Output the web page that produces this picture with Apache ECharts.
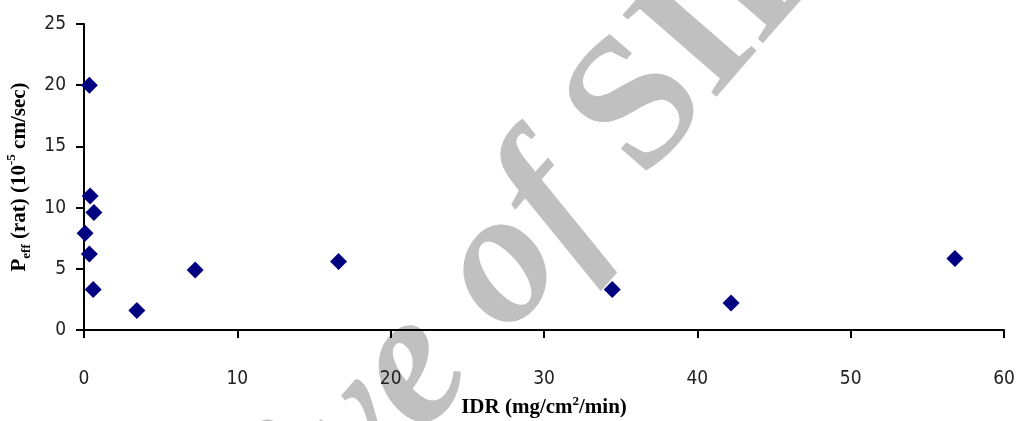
<!DOCTYPE html>
<html>
<head>
<meta charset="utf-8">
<script src="https://cdn.jsdelivr.net/npm/echarts@6/dist/echarts.min.js"></script>
<style>
  html, body { margin: 0; padding: 0; background: #fff; }
  #main { width: 1019px; height: 421px; }
</style>
</head>
<body>
<div id="main"></div>
<script>
// IDR (mg/cm2/min) vs Peff (rat) (10^-5 cm/sec)
var idrValues = [0.35, 0.4, 0.65, 0.07, 0.35, 0.6, 3.45, 7.25, 16.6, 34.45, 42.2, 56.8];
var peffValues = [20.0, 10.95, 9.6, 7.9, 6.2, 3.3, 1.6, 4.9, 5.6, 3.3, 2.2, 5.85];
var xTicks = [0, 10, 20, 30, 40, 50, 60];
var yTicks = [0, 5, 10, 15, 20, 25];

var points = idrValues.map(function (x, i) { return [x, peffValues[i]]; });

var chart = echarts.init(document.getElementById('main'));
var tickFont = '"DejaVu Sans Condensed", "Liberation Sans Narrow", sans-serif';
var titleFont = '"Liberation Serif", "Times New Roman", serif';

// watermark, two pieces sharing one anchor (just before the "S")
var wmAngle = 49 * Math.PI / 180;
var wmX = 606, wmY = 149;

var option = {
    animation: false,
    backgroundColor: '#fff',
    grid: { left: 84, right: 15, top: 24, bottom: 91, containLabel: false, outerBoundsMode: 'none' },
    graphic: {
        elements: [{
            type: 'text',
            z: -10,
            x: wmX,
            y: wmY,
            rotation: wmAngle,
            style: {
                text: 'Archive of ',
                fill: '#c0c0c0',
                font: 'italic bold 190px "Liberation Serif", serif',
                textAlign: 'right',
                textVerticalAlign: 'middle'
            }
        }, {
            type: 'text',
            z: -10,
            x: wmX,
            y: wmY,
            rotation: wmAngle,
            style: {
                text: 'SID',
                fill: '#c0c0c0',
                font: 'bold 190px "Liberation Serif", serif',
                textAlign: 'left',
                textVerticalAlign: 'middle'
            }
        }]
    },
    xAxis: {
        type: 'value',
        min: 0,
        max: 60,
        interval: 10,
        splitLine: { show: false },
        axisLine: { onZero: false, lineStyle: { color: '#000', width: 2 } },
        axisTick: { show: true, length: 8, lineStyle: { color: '#000', width: 2 } },
        axisLabel: {
            margin: 40,
            fontSize: 19,
            color: '#222',
            fontFamily: tickFont,
            formatter: function (v) { return xTicks.indexOf(v) >= 0 ? String(v) : ''; }
        },
        name: 'IDR (mg/cm{sup|2}/min)',
        nameLocation: 'middle',
        nameGap: 65,
        nameTextStyle: {
            fontFamily: titleFont,
            fontWeight: 'bold',
            fontSize: 21,
            color: '#000',
            lineHeight: 26,
            rich: {
                sup: { fontFamily: titleFont, fontWeight: 'bold', fontSize: 13, verticalAlign: 'top', color: '#000' }
            }
        }
    },
    yAxis: {
        type: 'value',
        min: 0,
        max: 25,
        interval: 5,
        splitLine: { show: false },
        axisLine: { onZero: false, lineStyle: { color: '#000', width: 2 } },
        axisTick: { show: true, length: 8, lineStyle: { color: '#000', width: 2 } },
        axisLabel: {
            margin: 18,
            fontSize: 19,
            color: '#222',
            fontFamily: tickFont,
            formatter: function (v) { return yTicks.indexOf(v) >= 0 ? String(v) : ''; }
        },
        name: 'P{sub|eff}{b| (rat) (10}{sup|-5}{b| cm/sec)}',
        nameLocation: 'middle',
        nameGap: 46,
        nameTextStyle: {
            fontFamily: titleFont,
            fontWeight: 'bold',
            fontSize: 21,
            color: '#000',
            lineHeight: 28,
            rich: {
                b: { fontFamily: titleFont, fontWeight: 'bold', fontSize: 21, color: '#000' },
                sub: { fontFamily: titleFont, fontWeight: 'bold', fontSize: 13, verticalAlign: 'bottom', color: '#000' },
                sup: { fontFamily: titleFont, fontWeight: 'bold', fontSize: 13, verticalAlign: 'top', color: '#000' }
            }
        }
    },
    series: [{
        type: 'scatter',
        data: points,
        symbol: 'diamond',
        symbolSize: [17, 17],
        itemStyle: { color: '#000080', opacity: 1 },
        z: 5
    }]
};
chart.setOption(option);
</script>
</body>
</html>
